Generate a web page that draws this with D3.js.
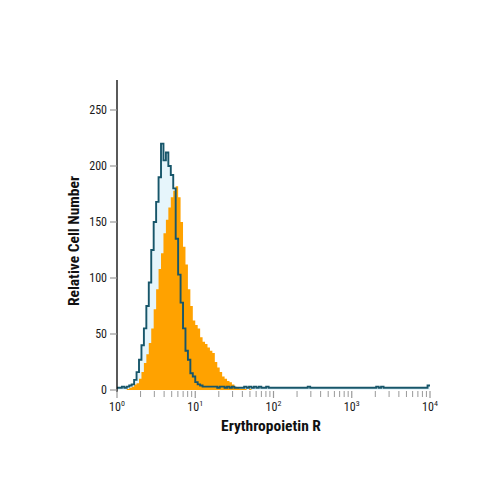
<!DOCTYPE html>
<html><head><meta charset="utf-8">
<script src="https://cdn.jsdelivr.net/npm/d3@7"></script>
<style>body{margin:0;background:#fff}</style>
</head><body>
<svg id="c" width="500" height="500"></svg>
<script>
// Histogram bins: 32 bins per decade, from 10^0 to 10^4 (128 bins)
const binsPerDecade = 32;
const isotypeCounts = [
  2,2,3,2,3,4,5,9,16,27, 40,55,75,96,125,150,168,190,220,205,
  212,200,192,180,135,103,78,55,35,27, 15,12,7,5,4,3,3,3,3,3,
  3,2,3,3,2,3,2,3,2,2, 2,2,3,2,3,2,3,2,3,2, 2,3,2,2,2,2,2,2,2,2,
  2,2,2,2,2,2,2,2,3,2, 2,2,2,2,2,2,2,2,2,2, 2,2,2,2,2,2,2,2,2,2,
  2,2,2,2,2,2,3,2,3,2, 2,2,2,2,2,2,2,2,2,2, 2,2,2,2,2,2,2,4
];
const sampleCounts = [
  0,0,0,0,1,2,3,5,6,10, 16,24,32,42,55,72,90,108,122,140,
  152,163,172,178,182,172,150,128,112,90, 75,62,58,55,47,43,41,38,35,33,
  25,20,16,12,10,8,7,5,3,2, 1,1,1,0,1,0,0,0,0,0, 0,0,0,0,0,0,0,0,0,0,
  0,0,0,0,0,0,0,0,0,0, 0,0,0,0,0,0,0,0,0,0, 0,0,0,0,0,0,0,0,0,0,
  0,0,0,0,0,0,0,0,0,0, 0,0,0,0,0,0,0,0,0,0, 0,0,0,0,0,0,0,0
];
const yTicks = [0, 50, 100, 150, 200, 250];
const xDecades = [0, 1, 2, 3, 4];
const xTitle = "Erythropoietin R";
const yTitle = "Relative Cell Number";

const svg = d3.select("#c");
const x = d3.scaleLog().domain([1, 1e4]).range([117, 430]);
const y = d3.scaleLinear().domain([0, 250]).range([390, 110]);

function stepPoints(counts) {
  const pts = counts.map((c, i) => [Math.pow(10, i / binsPerDecade), c]);
  pts.push([Math.pow(10, counts.length / binsPerDecade), counts[counts.length - 1]]);
  return pts;
}
const area = d3.area().x(d => x(d[0])).y0(y(0)).y1(d => y(d[1])).curve(d3.curveStepAfter);
const line = d3.line().x(d => x(d[0])).y(d => y(d[1])).curve(d3.curveStepAfter);

const iso = stepPoints(isotypeCounts);
const smp = stepPoints(sampleCounts);

svg.append("path").attr("d", area(iso)).attr("fill", "#e6f5fb");
svg.append("path").attr("d", area(smp)).attr("fill", "#ffa200");
svg.append("path").attr("d", line(iso)).attr("fill", "none")
  .attr("stroke", "#17566a").attr("stroke-width", 1.9).attr("stroke-linejoin", "miter");

// Y axis
svg.append("line").attr("x1", 117).attr("x2", 117).attr("y1", 80).attr("y2", 392)
  .attr("stroke", "#000").attr("stroke-width", 1.3);
const fontFam = "'Liberation Sans Narrow','Arial Narrow','Roboto Condensed','Liberation Sans',sans-serif";
yTicks.forEach(t => {
  svg.append("line").attr("x1", 110).attr("x2", 117).attr("y1", y(t)).attr("y2", y(t))
    .attr("stroke", "#999").attr("stroke-width", 1.2);
  svg.append("text").attr("x", 107).attr("y", y(t) + 4).attr("text-anchor", "end")
    .attr("font-family", fontFam).attr("font-size", 12).attr("fill", "#1a1a1a").text(t);
});

// X axis ticks (major + minor), gray
xDecades.forEach((d, k) => {
  const v = Math.pow(10, d);
  svg.append("line").attr("x1", x(v)).attr("x2", x(v)).attr("y1", 391).attr("y2", 398)
    .attr("stroke", "#999").attr("stroke-width", 1.2);
  if (k < xDecades.length - 1) {
    for (let m = 2; m <= 9; m++) {
      svg.append("line").attr("x1", x(v * m)).attr("x2", x(v * m)).attr("y1", 391).attr("y2", 397)
        .attr("stroke", "#999").attr("stroke-width", 1);
    }
  }
  const tx = svg.append("text").attr("x", x(v)).attr("y", 411).attr("text-anchor", "middle")
    .attr("font-family", fontFam).attr("font-size", 12).attr("fill", "#1a1a1a");
  tx.append("tspan").text("10");
  tx.append("tspan").attr("dy", -5).attr("font-size", 8).text(d);
});

svg.append("text").attr("x", 271).attr("y", 431).attr("text-anchor", "middle")
  .attr("font-family", fontFam).attr("font-weight", "bold").attr("font-size", 15.5)
  .attr("fill", "#111").text(xTitle);
svg.append("text").attr("transform", "translate(79,241) rotate(-90)").attr("text-anchor", "middle")
  .attr("font-family", fontFam).attr("font-weight", "bold").attr("font-size", 15.5)
  .attr("fill", "#111").text(yTitle);
</script>
</body></html>
